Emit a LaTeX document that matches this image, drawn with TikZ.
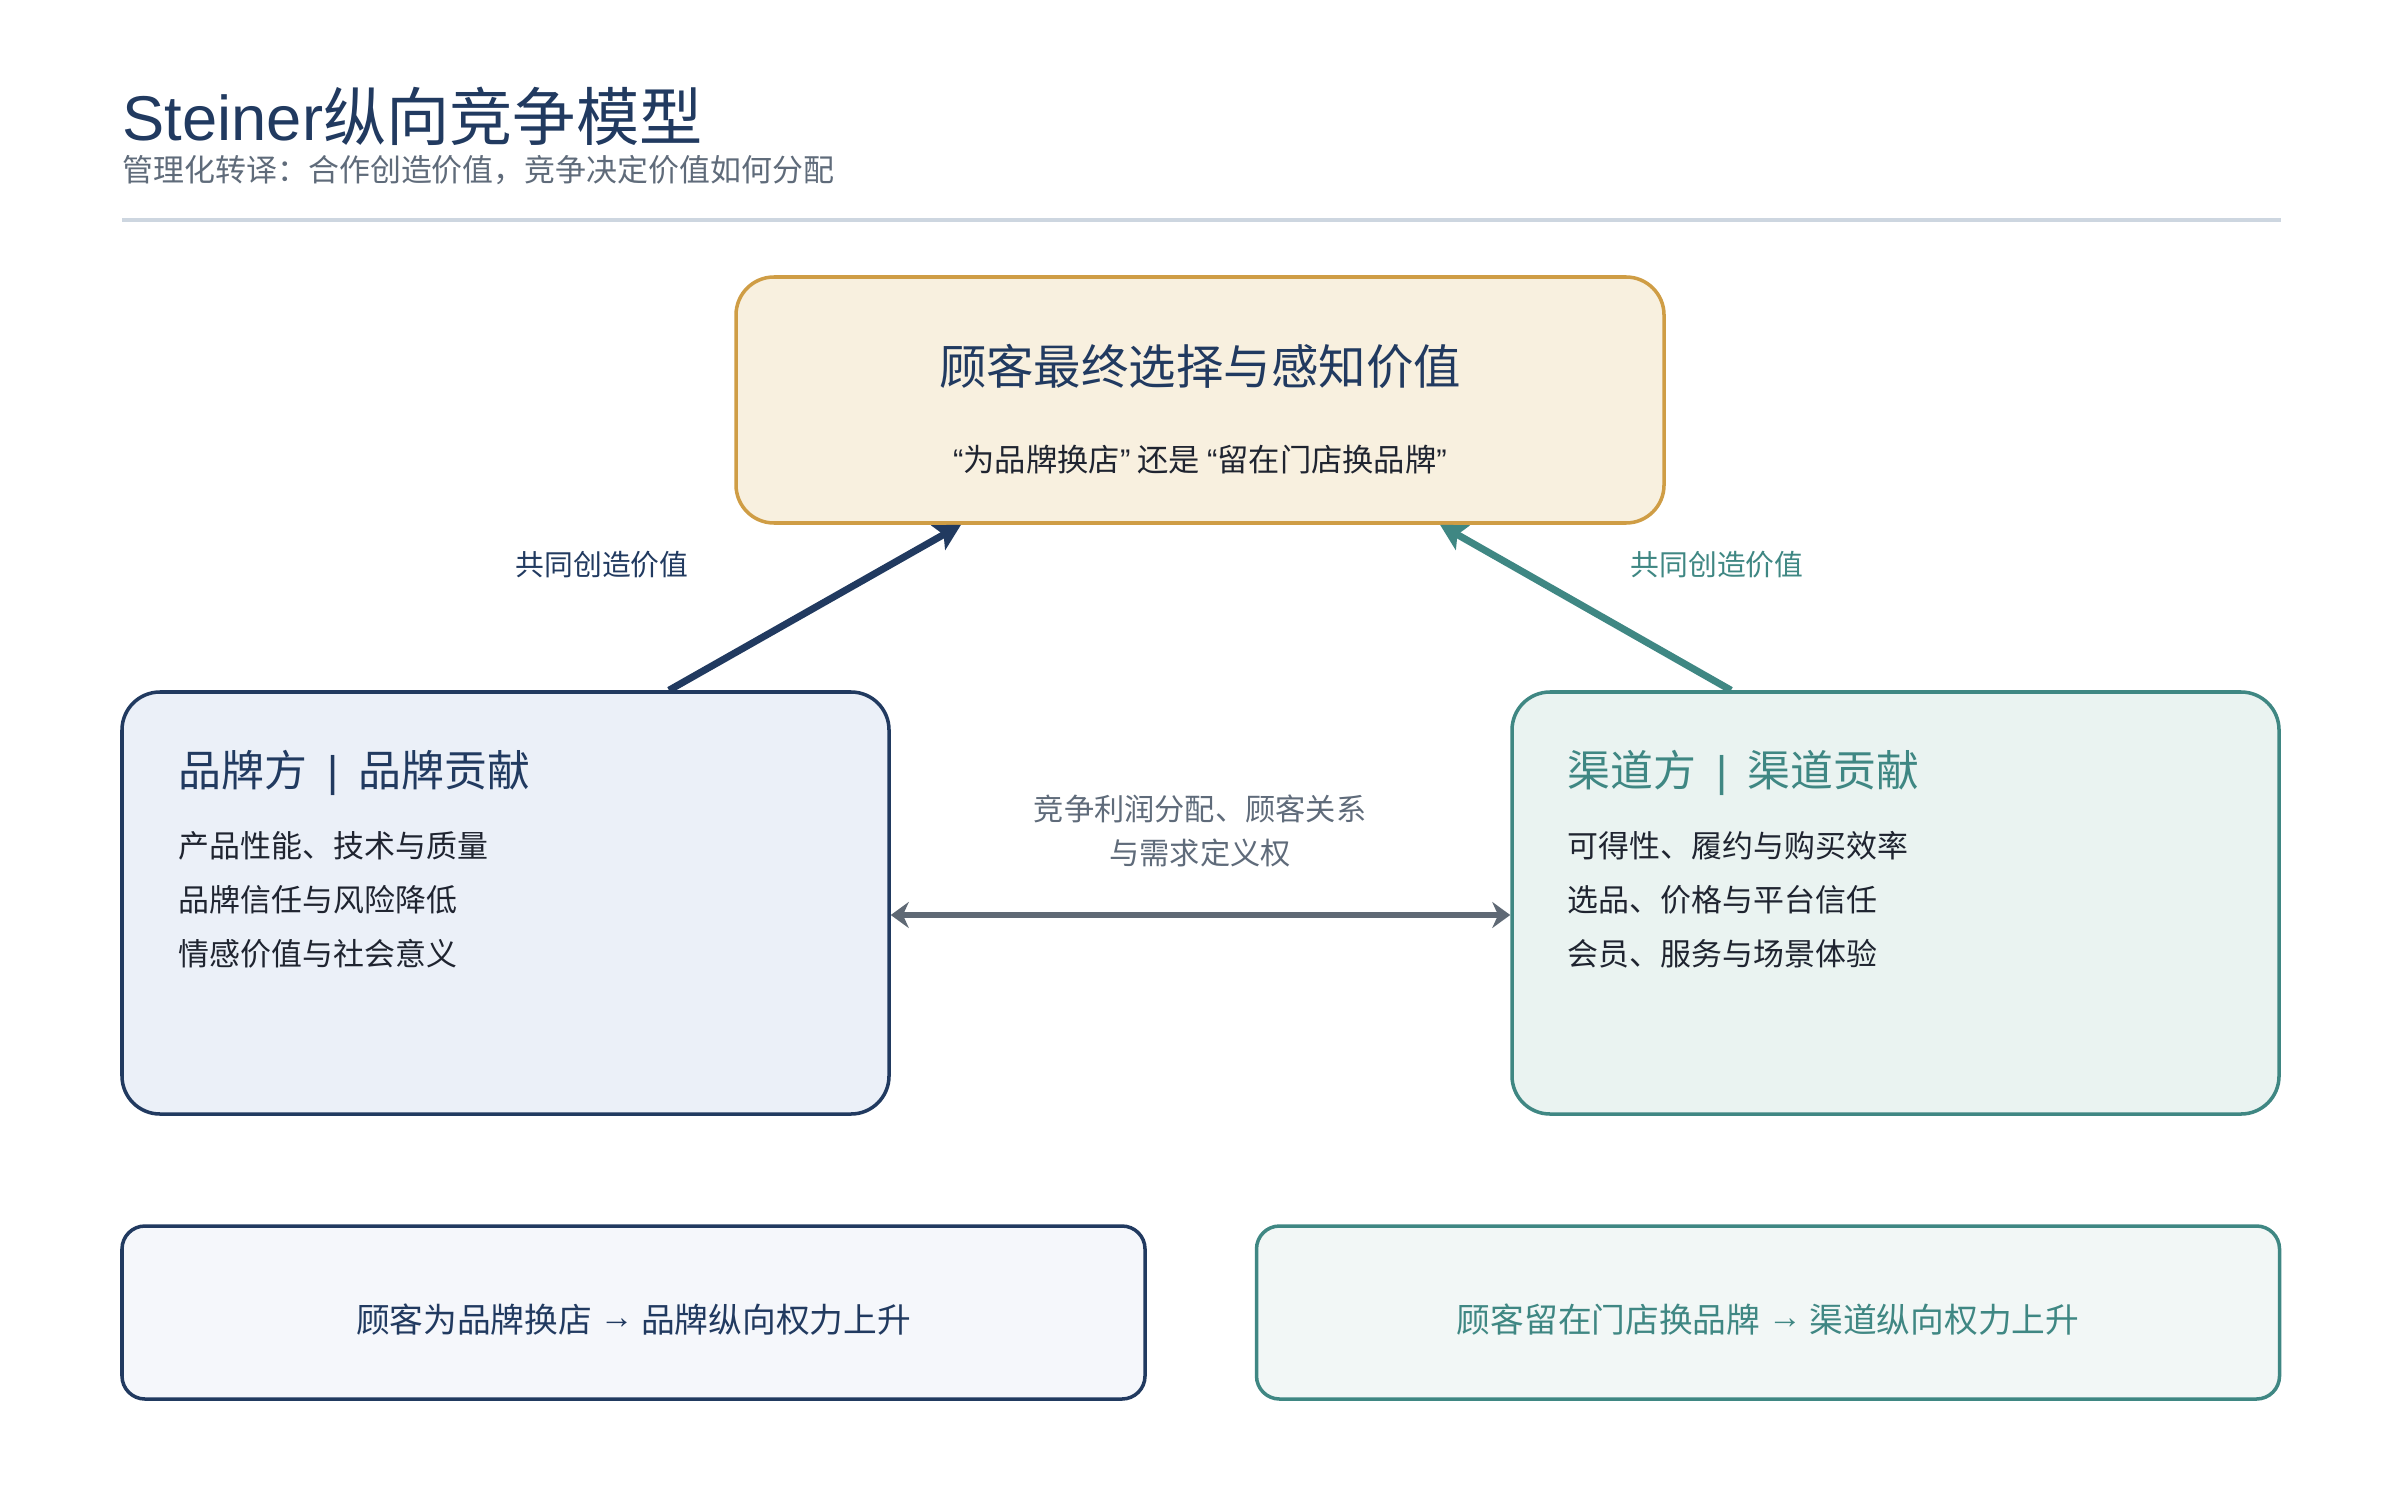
\documentclass[tikz,border=0pt]{standalone}
\usepackage{fontspec}
\setmainfont{Noto Sans CJK SC}
\newfontfamily\latin{Liberation Sans}
\usetikzlibrary{arrows.meta}

\definecolor{navy}{HTML}{213A60}
\definecolor{teal}{HTML}{3F8783}
\definecolor{gold}{HTML}{CF9D45}
\definecolor{cream}{HTML}{F8F0DF}
\definecolor{brandfill}{HTML}{EBF0F8}
\definecolor{chanfill}{HTML}{EAF3F1}
\definecolor{brandsoft}{HTML}{F5F7FB}
\definecolor{chansoft}{HTML}{F2F7F6}
\definecolor{greytext}{HTML}{5F6B7A}
\definecolor{greyline}{HTML}{5F6975}
\definecolor{inktext}{HTML}{1F2430}
\definecolor{rule}{HTML}{CDD6E0}

\newcommand{\fs}[1]{\fontsize{#1}{1.25\dimexpr#1pt\relax}\selectfont}
\newcommand{\sepbar}{\hspace{0.2cm}{\latin |}\hspace{0.2cm}}
\newcommand{\toarrow}{\raisebox{0.12em}{\latin →}}

\begin{document}
\begin{tikzpicture}[
  every node/.style={inner sep=0pt},
  panel/.style={draw, line width=1pt, rounded corners=0.38cm,
                minimum width=7.67cm, minimum height=4.22cm},
  verdict/.style={draw, line width=1pt, rounded corners=0.23cm,
                  minimum width=10.23cm, minimum height=1.73cm},
  heading/.style={anchor=west, font=\fs{12.2}},
  item/.style={anchor=west, font=\fs{8.8}, text=inktext},
  cue/.style={font=\fs{8.2}},
  flow/.style={line width=2pt, -{Stealth[length=0.26cm, width=0.28cm, inset=0.06cm]}}
]
  \useasboundingbox[fill=white] (0,0) rectangle (24,15);

  % title block
  \node[anchor=base west, font=\fs{18}, text=navy] (title) at (1.22,13.59)
       {{\latin Steiner}纵向竞争模型};
  \node[anchor=west, font=\fs{8.8}, text=greytext] (subtitle) at (1.22,13.30)
       {管理化转译：合作创造价值，竞争决定价值如何分配};
  \draw[rule, line width=1pt] (1.22,12.80) -- (22.81,12.80);

  % customer
  \node[draw=gold, fill=cream, line width=1pt, rounded corners=0.38cm,
        minimum width=9.28cm, minimum height=2.46cm] (cust) at (12.00,11.00) {};
  \node[font=\fs{13.5}, text=navy] (custtitle) at (12.00,11.34) {顾客最终选择与感知价值};
  \node[font=\fs{8.9}, text=inktext] (custsub) at (12.00,10.40)
       {{\latin “}为品牌换店{\latin ”} 还是 {\latin “}留在门店换品牌{\latin ”}};

  % brand and channel panels
  \node[panel, draw=navy, fill=brandfill] (brand) at (5.055,5.97) {};
  \node[panel, draw=teal, fill=chanfill] (chan) at (18.955,5.97) {};

  \node[heading, text=navy] (brandhead) at (1.78,7.27) {品牌方\sepbar 品牌贡献};
  \node[heading, text=teal] (chanhead) at (15.67,7.27) {渠道方\sepbar 渠道贡献};

  \foreach \i/\y/\btxt/\ctxt in {
    1/6.54/产品性能、技术与质量/可得性、履约与购买效率,
    2/6.00/品牌信任与风险降低/选品、价格与平台信任,
    3/5.46/情感价值与社会意义/会员、服务与场景体验} {
    \node[item] (bitem\i) at (1.78,\y) {\btxt};
    \node[item] (citem\i) at (15.67,\y) {\ctxt};
  }

  % value creation
  \draw[flow, navy] ([xshift=1.635cm]brand.north) -- ([xshift=-2.39cm]cust.south);
  \draw[flow, teal] ([xshift=-1.645cm]chan.north) -- ([xshift=2.40cm]cust.south);
  \node[cue, text=navy] (bcue) at (6.02,9.35) {共同创造价值};
  \node[cue, text=teal] (ccue) at (17.17,9.35) {共同创造价值};

  % competition
  \draw[greyline, line width=1.6pt,
        {Stealth[length=0.18cm, width=0.26cm]}-{Stealth[length=0.18cm, width=0.26cm]}]
        ([yshift=-0.12cm]brand.east) -- ([yshift=-0.12cm]chan.west);
  \node[font=\fs{8.6}, text=greytext, align=center] (compete) at (12.00,6.69)
       {竞争利润分配、顾客关系\\[0.06cm]与需求定义权};

  % outcomes
  \node[verdict, draw=navy, fill=brandsoft] (bout) at (6.335,1.875) {};
  \node[font=\fs{9.6}, text=navy] (bouttxt) at ([yshift=-0.07cm]bout.center)
       {顾客为品牌换店 \toarrow{} 品牌纵向权力上升};
  \node[verdict, draw=teal, fill=chansoft] (cout) at (17.68,1.875) {};
  \node[font=\fs{9.6}, text=teal] (couttxt) at ([yshift=-0.07cm]cout.center)
       {顾客留在门店换品牌 \toarrow{} 渠道纵向权力上升};
\end{tikzpicture}
\end{document}
